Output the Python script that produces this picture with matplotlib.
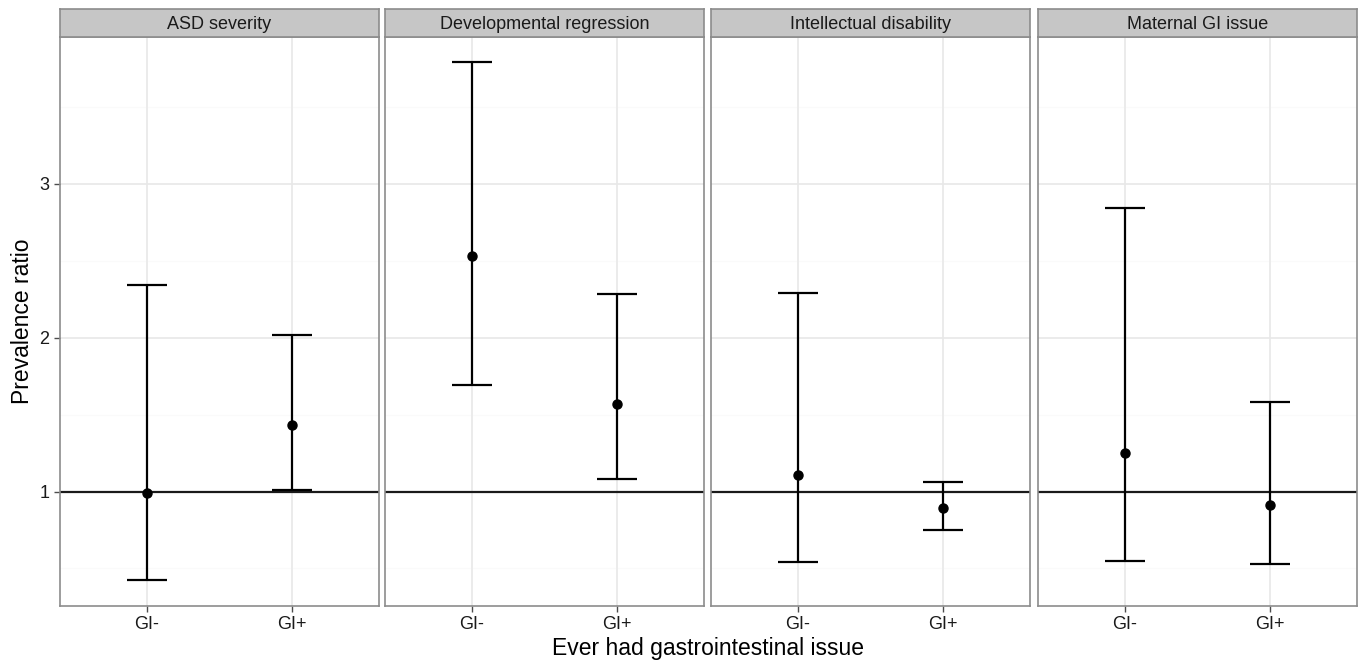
import matplotlib.pyplot as plt

plt.rcParams['font.family'] = ['Liberation Sans', 'DejaVu Sans']

# data
panels = ['ASD severity', 'Developmental regression', 'Intellectual disability', 'Maternal GI issue']
groups = ['GI-', 'GI+']
est = [[0.99, 1.43], [2.53, 1.57], [1.11, 0.89], [1.25, 0.91]]
lower = [[0.425, 1.01], [1.69, 1.08], [0.54, 0.75], [0.55, 0.53]]
upper = [[2.34, 2.02], [3.79, 2.285], [2.29, 1.06], [2.84, 1.585]]
yticks = [1, 2, 3]
minor_ticks = [0.5, 1.5, 2.5, 3.5]

W, H = 1359, 667
fig = plt.figure(figsize=(W / 100, H / 100), dpi=100)

lefts = [60, 385, 711, 1038]
pw = 319
bottom_px, top_px, strip_top = 606, 37, 9

for i, name in enumerate(panels):
    ax = fig.add_axes([lefts[i] / W, 1 - bottom_px / H, pw / W, (bottom_px - top_px) / H])
    x = [1, 2]
    ax.set_xlim(0.4, 2.6)
    ax.set_ylim(0.256, 3.954)
    # grid
    for m in minor_ticks:
        ax.axhline(m, color='#FAFAFA', lw=1, zorder=0)
    for t in yticks:
        ax.axhline(t, color='#E8E8E8', lw=1.2, zorder=0)
    for xx in x:
        ax.axvline(xx, color='#E8E8E8', lw=1.2, zorder=0)
    ax.axhline(1, color='#1a1a1a', lw=1.6, zorder=2)
    yerr = [[est[i][j] - lower[i][j] for j in range(2)], [upper[i][j] - est[i][j] for j in range(2)]]
    ax.errorbar(x, est[i], yerr=yerr, fmt='o', color='black', ms=6.5, lw=1.6,
                capsize=14.5, capthick=1.6, zorder=3)
    ax.set_xticks(x)
    ax.set_xticklabels(groups, fontsize=13, color='#1a1a1a')
    ax.set_yticks(yticks)
    ax.tick_params(color='#4d4d4d', length=4, width=1)
    if i == 0:
        ax.set_yticklabels([str(t) for t in yticks], fontsize=13, color='#1a1a1a')
        ax.set_ylabel('Prevalence ratio', fontsize=16.5, labelpad=4)
    else:
        ax.tick_params(axis='y', left=False, labelleft=False)
    for s in ax.spines.values():
        s.set_color('#8c8c8c')
        s.set_linewidth(1.2)
    # facet strip
    sax = fig.add_axes([lefts[i] / W, 1 - top_px / H, pw / W, (top_px - strip_top) / H])
    sax.set_xticks([])
    sax.set_yticks([])
    sax.set_facecolor('#C6C6C6')
    for s in sax.spines.values():
        s.set_color('#8c8c8c')
        s.set_linewidth(1.2)
    sax.text(0.5, 0.45, name, ha='center', va='center', fontsize=13, color='#1a1a1a',
             transform=sax.transAxes)

fig.text(708 / W, 1 - 648 / H, 'Ever had gastrointestinal issue', ha='center', va='center', fontsize=16.5)

fig.savefig('out.png', dpi=100)
